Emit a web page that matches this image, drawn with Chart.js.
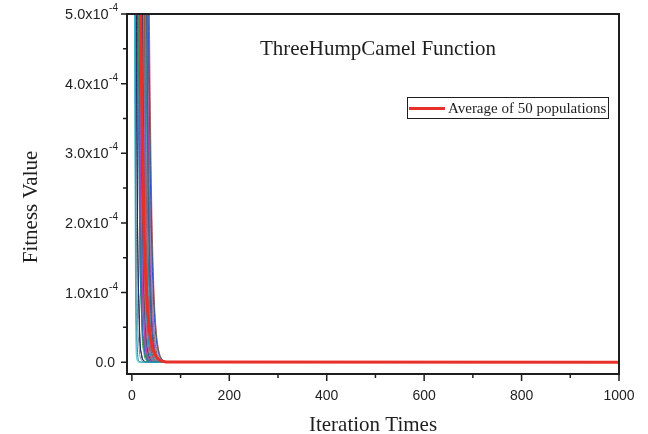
<!DOCTYPE html>
<html>
<head>
<meta charset="utf-8">
<title>ThreeHumpCamel Function</title>
<script src="https://cdn.jsdelivr.net/npm/chart.js@4.4.1/dist/chart.umd.min.js"></script>
<style>
  html, body { margin: 0; padding: 0; background: #fff; }
  #wrap { width: 648px; height: 434px; }
</style>
</head>
<body>
<div id="wrap"><canvas id="fitnessChart" width="648" height="434"></canvas></div>
<script>
// ----------------------------------------------------
// Data (fitness values are stored in units of 1e-4)
// ----------------------------------------------------
const FITNESS_UNIT = 1e-4;
const iterations = [0, 5, 10, 15, 20, 25, 30, 35, 40, 45, 50, 55, 60, 65, 70, 1000];

const averageFitness = [150, 42, 16, 7.6, 3.9, 1.9, 1.0, 0.52, 0.28, 0.15, 0.08, 0.04, 0.02, 0.01, 0.004, 0];

const populations = [
  [400, 8, 0.05, 0.001, 0, 0, 0, 0, 0, 0, 0, 0, 0, 0, 0, 0],
  [250, 15, 0.4, 0.01, 0, 0, 0, 0, 0, 0, 0, 0, 0, 0, 0, 0],
  [90, 12, 1.5, 0.2, 0.03, 0.004, 0, 0, 0, 0, 0, 0, 0, 0, 0, 0],
  [150, 20, 3.5, 0.6, 0.1, 0.02, 0.003, 0, 0, 0, 0, 0, 0, 0, 0, 0],
  [200, 30, 4.5, 0.7, 0.1, 0.015, 0.002, 0, 0, 0, 0, 0, 0, 0, 0, 0],
  [500, 60, 9, 2.5, 0.7, 0.2, 0.05, 0.015, 0.004, 0.001, 0, 0, 0, 0, 0, 0],
  [400, 80, 15, 3, 0.6, 0.12, 0.025, 0.005, 0.001, 0, 0, 0, 0, 0, 0, 0],
  [600, 100, 18, 4.2, 1.0, 0.25, 0.06, 0.015, 0.004, 0.001, 0, 0, 0, 0, 0, 0],
  [350, 70, 14, 4.8, 1.6, 0.5, 0.16, 0.05, 0.016, 0.005, 0.002, 0, 0, 0, 0, 0],
  [800, 120, 25, 6, 1.8, 0.55, 0.16, 0.05, 0.015, 0.005, 0.001, 0, 0, 0, 0, 0],
  [700, 140, 30, 7, 2.2, 0.7, 0.22, 0.07, 0.02, 0.007, 0.002, 0, 0, 0, 0, 0],
  [900, 200, 40, 8, 2.0, 0.5, 0.12, 0.03, 0.008, 0.002, 0, 0, 0, 0, 0, 0],
  [1000, 250, 55, 12, 3.0, 0.8, 0.2, 0.05, 0.012, 0.003, 0.001, 0, 0, 0, 0, 0],
  [800, 180, 45, 11, 3.8, 1.3, 0.45, 0.15, 0.05, 0.017, 0.006, 0.002, 0, 0, 0, 0],
  [1200, 300, 70, 15, 4.0, 1.1, 0.3, 0.08, 0.02, 0.006, 0.002, 0, 0, 0, 0, 0],
  [1500, 350, 80, 20, 4.6, 1.4, 0.42, 0.13, 0.04, 0.012, 0.004, 0.001, 0, 0, 0, 0],
  [900, 250, 60, 16, 4.9, 1.7, 0.6, 0.2, 0.07, 0.025, 0.009, 0.003, 0.001, 0, 0, 0],
  [1400, 400, 100, 22, 3.5, 0.6, 0.1, 0.017, 0.003, 0, 0, 0, 0, 0, 0, 0],
  [2000, 500, 120, 28, 4.4, 0.9, 0.18, 0.035, 0.007, 0.0015, 0, 0, 0, 0, 0, 0],
  [1600, 450, 110, 30, 7.0, 2.0, 0.6, 0.18, 0.055, 0.017, 0.005, 0.0015, 0, 0, 0, 0],
  [2500, 600, 150, 35, 8.0, 1.9, 0.45, 0.11, 0.026, 0.006, 0.0015, 0, 0, 0, 0, 0],
  [1800, 500, 140, 40, 9.5, 2.6, 0.75, 0.22, 0.065, 0.019, 0.006, 0.002, 0, 0, 0, 0],
  [3000, 700, 160, 38, 6.0, 1.1, 0.2, 0.037, 0.007, 0.001, 0, 0, 0, 0, 0, 0],
  [2200, 650, 170, 45, 10, 2.5, 0.65, 0.17, 0.045, 0.012, 0.003, 0.001, 0, 0, 0, 0],
  [3500, 900, 220, 55, 12, 3.0, 0.75, 0.19, 0.05, 0.012, 0.003, 0.001, 0, 0, 0, 0],
  [2800, 800, 230, 60, 14, 3.8, 1.1, 0.32, 0.09, 0.027, 0.008, 0.002, 0, 0, 0, 0],
  [4000, 1000, 250, 70, 16, 3.4, 0.7, 0.15, 0.03, 0.006, 0.001, 0, 0, 0, 0, 0],
  [3200, 950, 280, 80, 20, 4.2, 0.9, 0.19, 0.04, 0.009, 0.002, 0, 0, 0, 0, 0],
  [5000, 1200, 320, 85, 22, 4.8, 1.3, 0.36, 0.1, 0.028, 0.008, 0.002, 0, 0, 0, 0],
  [4200, 1100, 300, 90, 24, 6.5, 1.8, 0.5, 0.14, 0.04, 0.011, 0.003, 0.001, 0, 0, 0],
  [6000, 1500, 400, 100, 28, 7.5, 2.0, 0.55, 0.15, 0.04, 0.011, 0.003, 0.001, 0, 0, 0],
  [4500, 1300, 380, 110, 32, 8.5, 2.5, 0.75, 0.22, 0.065, 0.02, 0.006, 0.002, 0, 0, 0],
  [7000, 1800, 480, 130, 35, 9.5, 2.2, 0.5, 0.12, 0.028, 0.006, 0.0015, 0, 0, 0, 0],
  [5500, 1600, 450, 130, 38, 11, 3.2, 0.95, 0.28, 0.085, 0.025, 0.008, 0.002, 0, 0, 0],
  [8000, 2000, 550, 150, 42, 12, 4.0, 1.3, 0.42, 0.14, 0.045, 0.015, 0.005, 0.0015, 0, 0],
  [6500, 1900, 560, 160, 48, 14, 4.5, 1.5, 0.5, 0.17, 0.055, 0.018, 0.006, 0.002, 0, 0],
  [9000, 2500, 700, 190, 52, 14, 3.6, 0.9, 0.22, 0.055, 0.014, 0.003, 0.001, 0, 0, 0],
  [7500, 2200, 650, 190, 55, 16, 4.8, 1.6, 0.55, 0.18, 0.06, 0.02, 0.007, 0.002, 0, 0],
  [10000, 3000, 850, 240, 65, 18, 5.5, 1.7, 0.55, 0.18, 0.06, 0.02, 0.006, 0.002, 0, 0],
  [9500, 2800, 800, 230, 68, 20, 6.5, 2.3, 0.85, 0.3, 0.11, 0.04, 0.015, 0.005, 0.002, 0],
  [12000, 3500, 1000, 300, 85, 24, 7.5, 2.4, 0.8, 0.26, 0.085, 0.028, 0.009, 0.003, 0.001, 0],
  [11000, 3200, 950, 280, 80, 24, 7.0, 3.0, 1.3, 0.55, 0.22, 0.09, 0.035, 0.012, 0.004, 0],
  [14000, 4000, 1200, 350, 100, 30, 9.0, 4.2, 1.9, 0.8, 0.32, 0.12, 0.045, 0.016, 0.005, 0],
  [15000, 4500, 1300, 380, 110, 32, 10, 4.8, 2.2, 0.95, 0.4, 0.16, 0.06, 0.022, 0.008, 0],
  [13000, 3800, 1100, 320, 95, 28, 8.5, 3.6, 1.4, 0.5, 0.17, 0.055, 0.018, 0.006, 0.002, 0],
  [16000, 5000, 1500, 450, 130, 38, 12, 5.8, 2.6, 1.1, 0.45, 0.17, 0.06, 0.02, 0.007, 0],
  [10000, 2900, 820, 220, 58, 15, 3.8, 1.0, 0.26, 0.07, 0.018, 0.005, 0.001, 0, 0, 0],
  [5000, 1400, 380, 95, 24, 5.8, 1.4, 0.33, 0.08, 0.02, 0.005, 0.001, 0, 0, 0, 0],
  [2600, 700, 180, 42, 9, 1.9, 0.4, 0.085, 0.018, 0.004, 0.001, 0, 0, 0, 0, 0],
  [700, 110, 20, 4.0, 0.9, 0.2, 0.045, 0.01, 0.002, 0, 0, 0, 0, 0, 0, 0]
];

// axis ticks
const xTicks = [0, 200, 400, 600, 800, 1000];
const xMinorTicks = [100, 300, 500, 700, 900];
const yTicks = [0, 1e-4, 2e-4, 3e-4, 4e-4, 5e-4];
const yMinorTicks = [0.5e-4, 1.5e-4, 2.5e-4, 3.5e-4, 4.5e-4];

const lineColors = [
  "#2ab4cc", "#17808a", "#7a8898", "#1f2f7a", "#000000", "#2f6fb8",
  "#2a9a3a", "#7b3fa0", "#c03ca8", "#9a8ac8", "#3050d0", "#556b2f",
  "#8b4513", "#d06080", "#404040", "#a0a0c0"
];

const SERIF = '"Liberation Serif", "DejaVu Serif", serif';
const SANS = '"Liberation Sans", Arial, sans-serif';
const INK = "#1e1e1e";
const AVG_RED = "#e8302a";

// ----------------------------------------------------
// Datasets
// ----------------------------------------------------
const toPoints = vals => vals.map((v, i) => ({ x: iterations[i], y: v * FITNESS_UNIT }));

const datasets = [{
  label: "Average of 50 populations",
  data: toPoints(averageFitness),
  borderColor: AVG_RED,
  borderWidth: 3,
  order: 0
}];

populations.forEach((vals, i) => {
  datasets.push({
    label: "Population " + (i + 1),
    data: toPoints(vals),
    borderColor: lineColors[i % lineColors.length],
    borderWidth: 1,
    order: 1
  });
});

// ----------------------------------------------------
// Frame, ticks, labels, title and legend
// ----------------------------------------------------
function drawSciLabel(ctx, value, rightX, baseY) {
  if (value === 0) {
    ctx.font = "14px " + SANS;
    ctx.textAlign = "right";
    ctx.fillText("0.0", rightX - 3, baseY);
    return;
  }
  const mant = (value / FITNESS_UNIT).toFixed(1) + "x10";
  const sup = "-4";
  ctx.font = "10px " + SANS;
  const supW = ctx.measureText(sup).width;
  ctx.textAlign = "right";
  ctx.fillText(sup, rightX, baseY - 8);
  ctx.font = "14.5px " + SANS;
  ctx.fillText(mant, rightX - supW - 0.5, baseY);
}

const axesPlugin = {
  id: "originAxes",
  afterDatasetsDraw(chart) {
    const { ctx, chartArea: a, scales: { x, y } } = chart;
    ctx.save();
    ctx.strokeStyle = INK;
    ctx.lineWidth = 2;
    ctx.strokeRect(a.left, a.top, a.right - a.left, a.bottom - a.top);

    ctx.lineWidth = 1.5;
    ctx.beginPath();
    yTicks.forEach(v => {
      const py = y.getPixelForValue(v);
      ctx.moveTo(a.left - 6, py); ctx.lineTo(a.left, py);
    });
    yMinorTicks.forEach(v => {
      const py = y.getPixelForValue(v);
      ctx.moveTo(a.left - 4, py); ctx.lineTo(a.left, py);
    });
    xTicks.forEach(v => {
      const px = x.getPixelForValue(v);
      ctx.moveTo(px, a.bottom); ctx.lineTo(px, a.bottom + 7);
    });
    xMinorTicks.forEach(v => {
      const px = x.getPixelForValue(v);
      ctx.moveTo(px, a.bottom); ctx.lineTo(px, a.bottom + 4);
    });
    ctx.stroke();

    ctx.fillStyle = INK;
    ctx.textBaseline = "alphabetic";
    yTicks.forEach(v => drawSciLabel(ctx, v, a.left - 9, y.getPixelForValue(v) + 5));

    ctx.font = "14px " + SANS;
    ctx.textAlign = "center";
    xTicks.forEach(v => ctx.fillText(String(v), x.getPixelForValue(v), a.bottom + 26));
    ctx.restore();
  },
  afterDraw(chart) {
    const { ctx, chartArea: a } = chart;
    ctx.save();
    ctx.fillStyle = INK;
    ctx.font = "21px " + SERIF;
    ctx.textAlign = "center";
    ctx.fillText("ThreeHumpCamel Function", 378, 55);
    ctx.fillText("Iteration Times", (a.left + a.right) / 2, 431);

    ctx.save();
    ctx.translate(37, 207);
    ctx.rotate(-Math.PI / 2);
    ctx.fillText("Fitness Value", 0, 0);
    ctx.restore();

    // legend box
    ctx.strokeStyle = INK;
    ctx.lineWidth = 1;
    ctx.strokeRect(407.5, 97.5, 201, 21);
    ctx.strokeStyle = AVG_RED;
    ctx.lineWidth = 3;
    ctx.beginPath();
    ctx.moveTo(409, 108.5);
    ctx.lineTo(445, 108.5);
    ctx.stroke();
    ctx.font = "15px " + SERIF;
    ctx.textAlign = "left";
    ctx.fillText(datasets[0].label, 448, 113);
    ctx.restore();
  }
};

// ----------------------------------------------------
// Chart
// ----------------------------------------------------
const ctx = document.getElementById("fitnessChart").getContext("2d");

const fitnessChart = new Chart(ctx, {
  type: "line",
  data: { datasets },
  options: {
    responsive: false,
    devicePixelRatio: 1,
    animation: false,
    layout: { padding: { left: 127, right: 29, top: 14, bottom: 60 } },
    elements: {
      point: { radius: 0 },
      line: { cubicInterpolationMode: "monotone", fill: false }
    },
    datasets: { line: { clip: 0 } },
    scales: {
      x: { type: "linear", min: -10, max: 1000, display: false },
      y: { type: "linear", min: -0.17e-4, max: 5e-4, display: false }
    },
    plugins: {
      legend: { display: false },
      tooltip: { enabled: false }
    }
  },
  plugins: [axesPlugin]
});
</script>
</body>
</html>
